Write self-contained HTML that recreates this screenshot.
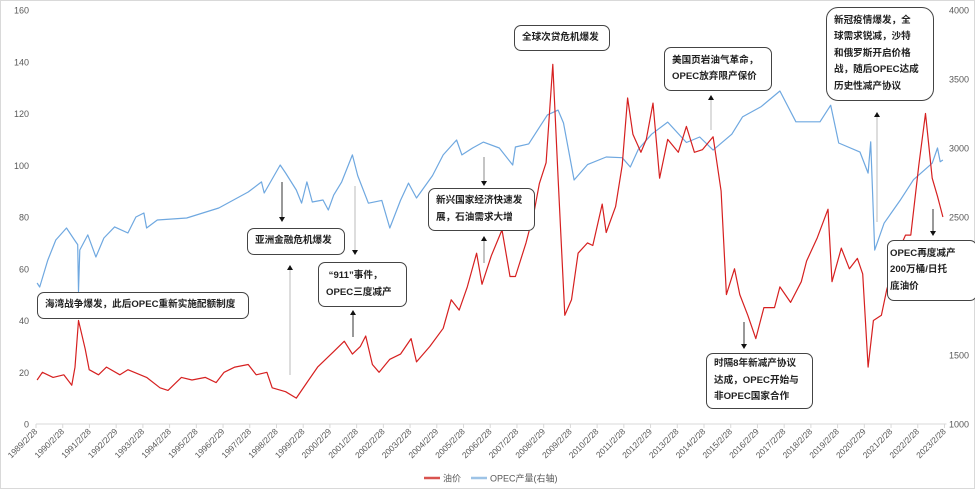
<!DOCTYPE html>
<html><head><meta charset="utf-8">
<style>
html,body{margin:0;padding:0;background:#fff;}
#wrap{position:relative;width:975px;height:489px;overflow:hidden;background:#fff;font-family:"Liberation Sans","Noto Sans CJK SC",sans-serif;}
.box{position:absolute;border:1.3px solid #444;border-radius:7px;background:#fff;font-size:9.6px;color:#222;font-weight:bold;line-height:16.5px;padding:0 0 0 7px;box-sizing:border-box;white-space:nowrap;display:flex;flex-direction:column;justify-content:center;overflow:hidden;}
</style></head>
<body>
<div id="wrap">
<svg id="chart" width="975" height="489" style="position:absolute;left:0;top:0">
  <rect x="0.5" y="0.5" width="974" height="488" fill="none" stroke="#d9d9d9"/>
</svg>
<div class="box" style="left:37px;top:292px;width:212px;height:27px;"><div>海湾战争爆发，此后OPEC重新实施配额制度</div></div>
<div class="box" style="left:247px;top:228px;width:98px;height:27px;"><div>亚洲金融危机爆发</div></div>
<div class="box" style="left:318px;top:262px;width:89px;height:45px;"><div>&nbsp;“911”事件，</div><div>OPEC三度减产</div></div>
<div class="box" style="left:428px;top:188px;width:107px;height:43px;"><div>新兴国家经济快速发</div><div>展，石油需求大增</div></div>
<div class="box" style="left:514px;top:25px;width:96px;height:26px;"><div>全球次贷危机爆发</div></div>
<div class="box" style="left:664px;top:47px;width:108px;height:44px;"><div>美国页岩油气革命，</div><div>OPEC放弃限产保价</div></div>
<div class="box" style="left:826px;top:7px;width:108px;height:94px;border-radius:12px;"><div>新冠疫情爆发，全</div><div>球需求锐减，沙特</div><div>和俄罗斯开启价格</div><div>战，随后OPEC达成</div><div>历史性减产协议</div></div>
<div class="box" style="left:706px;top:353px;width:107px;height:56px;"><div>时隔8年新减产协议</div><div>达成，OPEC开始与</div><div>非OPEC国家合作</div></div>
<div class="box" style="left:887px;top:240px;width:90px;height:61px;padding-left:2px;"><div>OPEC再度减产</div><div>200万桶/日托</div><div>底油价</div></div>
</div>
<script>
const leftTicks = [0,20,40,60,80,100,120,140,160];
const rightTicks = [1000,1500,2000,2500,3000,3500,4000];
const xLabels = ["1989/2/28","1990/2/28","1991/2/28","1992/2/29","1993/2/28","1994/2/28","1995/2/28","1996/2/29","1997/2/28","1998/2/28","1999/2/28","2000/2/29","2001/2/28","2002/2/28","2003/2/28","2004/2/29","2005/2/28","2006/2/28","2007/2/28","2008/2/29","2009/2/28","2010/2/28","2011/2/28","2012/2/29","2013/2/28","2014/2/28","2015/2/28","2016/2/29","2017/2/28","2018/2/28","2019/2/28","2020/2/29","2021/2/28","2022/2/28","2023/2/28"];
const oilDates = [1989.2,1989.4,1989.8,1990.2,1990.5,1990.62,1990.75,1991.0,1991.15,1991.5,1991.8,1992.3,1992.6,1993.3,1993.8,1994.1,1994.6,1995.0,1995.5,1995.9,1996.2,1996.6,1997.1,1997.4,1997.8,1998.0,1998.5,1998.9,1999.3,1999.7,2000.3,2000.7,2001.0,2001.3,2001.5,2001.75,2002.0,2002.4,2002.8,2003.2,2003.4,2003.9,2004.4,2004.7,2005.0,2005.3,2005.65,2005.85,2006.2,2006.6,2006.9,2007.1,2007.5,2007.8,2008.0,2008.25,2008.5,2008.7,2008.95,2009.2,2009.45,2009.8,2010.0,2010.35,2010.5,2010.85,2011.1,2011.3,2011.5,2011.8,2012.0,2012.25,2012.5,2012.8,2013.2,2013.5,2013.8,2014.1,2014.5,2014.8,2015.0,2015.3,2015.5,2015.8,2016.1,2016.4,2016.8,2017.0,2017.4,2017.8,2018.0,2018.4,2018.8,2018.95,2019.3,2019.6,2019.9,2020.1,2020.3,2020.5,2020.8,2021.0,2021.4,2021.7,2021.9,2022.2,2022.45,2022.7,2022.9,2023.0,2023.1];
const oilValues = [17,20,18,19,15,22,40,29,21,19,22,19,21,18,14,13,18,17,18,16,20,22,23,19,20,14,12.5,10,16,22,28,32,27,30,34,23,20,25,27,33,24,30,37,48,44,53,66,54,65,75,57,57,70,82,93,101,139,95,42,48,66,70,69,85,74,84,100,126,112,105,110,124,95,110,105,115,105,106,111,90,50,60,50,42,33,45,45,53,47,55,63,72,83,55,68,60,64,58,22,40,42,52,66,73,73,100,120,95,88,84,80];
const opecDates = [1989.2,1989.3,1989.6,1989.9,1990.3,1990.6,1990.72,1990.75,1990.8,1991.1,1991.4,1991.7,1992.1,1992.6,1992.9,1993.2,1993.3,1993.7,1994.8,1996.0,1997.1,1997.6,1997.7,1998.3,1998.5,1998.9,1999.1,1999.3,1999.5,1999.9,2000.1,2000.3,2000.6,2001.0,2001.2,2001.6,2002.1,2002.4,2002.8,2003.1,2003.4,2004.0,2004.4,2004.9,2005.1,2005.5,2005.9,2006.5,2007.0,2007.1,2007.6,2008.3,2008.7,2008.9,2009.3,2009.8,2010.5,2011.1,2011.4,2011.7,2012.2,2012.8,2013.5,2014.0,2014.5,2015.2,2015.6,2016.3,2017.0,2017.6,2018.5,2018.9,2019.2,2020.0,2020.3,2020.4,2020.55,2020.9,2021.5,2022.0,2022.7,2022.9,2023.0,2023.1];
const opecValues = [2022,1993,2188,2333,2420,2333,2300,1960,2261,2370,2210,2348,2428,2384,2500,2529,2420,2478,2493,2565,2681,2754,2674,2877,2819,2696,2601,2754,2609,2623,2551,2659,2754,2950,2800,2600,2620,2420,2620,2746,2638,2800,2950,3058,2950,3000,3043,3000,2877,3007,3030,3240,3275,3181,2768,2880,2935,2930,2862,2990,3100,3188,3040,3080,2985,3100,3225,3300,3413,3190,3190,3310,3036,2970,2818,3045,2260,2455,2620,2770,2890,3000,2900,2913];

const svg = document.getElementById('chart');
const NS = 'http://www.w3.org/2000/svg';
const X0 = 36, XSTEP = 26.72, YTOP = 10, YBOT = 424;
function xOf(t){ return X0 + (t - 1989.16) * XSTEP; }
function yL(v){ return YBOT - v / 160 * (YBOT - YTOP); }
function yR(v){ return YBOT - (v - 1000) / 3000 * (YBOT - YTOP); }
function mk(tag, attrs){ const e = document.createElementNS(NS, tag); for (const k in attrs) e.setAttribute(k, attrs[k]); svg.appendChild(e); return e; }

const axis = mk('line', {x1:X0, y1:YBOT, x2:xOf(2023.16)+2, y2:YBOT, stroke:'#d9d9d9', 'stroke-width':1});



leftTicks.forEach(v => {
  const t = mk('text', {x:29, y:yL(v)+3.5, 'text-anchor':'end', 'font-size':9, fill:'#595959'});
  t.textContent = v;
  
  
});
rightTicks.forEach(v => {
  const t = mk('text', {x:949, y:yR(v)+3.5, 'text-anchor':'start', 'font-size':9, fill:'#595959'});
  t.textContent = v;
  
  
});
xLabels.forEach((lab, i) => {
  const x = X0 + i * XSTEP;
  const tk = mk('line', {x1:x, y1:YBOT, x2:x, y2:YBOT+4, stroke:'#d9d9d9'});
  
  
  const t = mk('text', {x:x+2, y:YBOT+8, 'text-anchor':'end', 'font-size':8.5, fill:'#595959', transform:`rotate(-45 ${x+2} ${YBOT+8})`});
  t.textContent = lab;
  
  
});

const bp = opecDates.map((d, i) => `${i ? 'L' : 'M'}${xOf(d).toFixed(1)},${yR(opecValues[i]).toFixed(1)}`).join('');
const blue = mk('path', {d:bp, fill:'none', stroke:'#6fa8e0', 'stroke-width':1.2, 'stroke-linejoin':'round'});


const rp = oilDates.map((d, i) => `${i ? 'L' : 'M'}${xOf(d).toFixed(1)},${yL(oilValues[i]).toFixed(1)}`).join('');
const red = mk('path', {d:rp, fill:'none', stroke:'#d62020', 'stroke-width':1.2, 'stroke-linejoin':'round'});



const arrows = [[282,182,222,'#333'],[290,375,265,'#bbb'],[355,186,255,'#bbb'],[353,337,310,'#333'],[484,157,186,'#888'],[484,263,236,'#888'],[711,130,95,'#bbb'],[877,222,112,'#bbb'],[744,322,349,'#333'],[933,209,236,'#333']];
arrows.forEach(a => {
  const ln = mk('line', {x1:a[0], y1:a[1], x2:a[0], y2:a[2] + (a[2] > a[1] ? -4 : 4), stroke:a[3], 'stroke-width':1});
  
  
  const d = a[2] > a[1] ? 1 : -1;
  const h = mk('polygon', {points:`${a[0]-3},${a[2]-5*d} ${a[0]+3},${a[2]-5*d} ${a[0]},${a[2]}`, fill:'#111'});
  
  
});

const l1 = mk('line', {x1:424, y1:478, x2:440, y2:478, stroke:'#d9534f', 'stroke-width':2.5});


const t1 = mk('text', {x:443, y:481.5, 'font-size':9, fill:'#595959'}); t1.textContent = '油价';


const l2 = mk('line', {x1:471, y1:478, x2:487, y2:478, stroke:'#9dc3e6', 'stroke-width':2.5});


const t2 = mk('text', {x:490, y:481.5, 'font-size':9, fill:'#595959'}); t2.textContent = 'OPEC产量(右轴)';


</script>
</body></html>
